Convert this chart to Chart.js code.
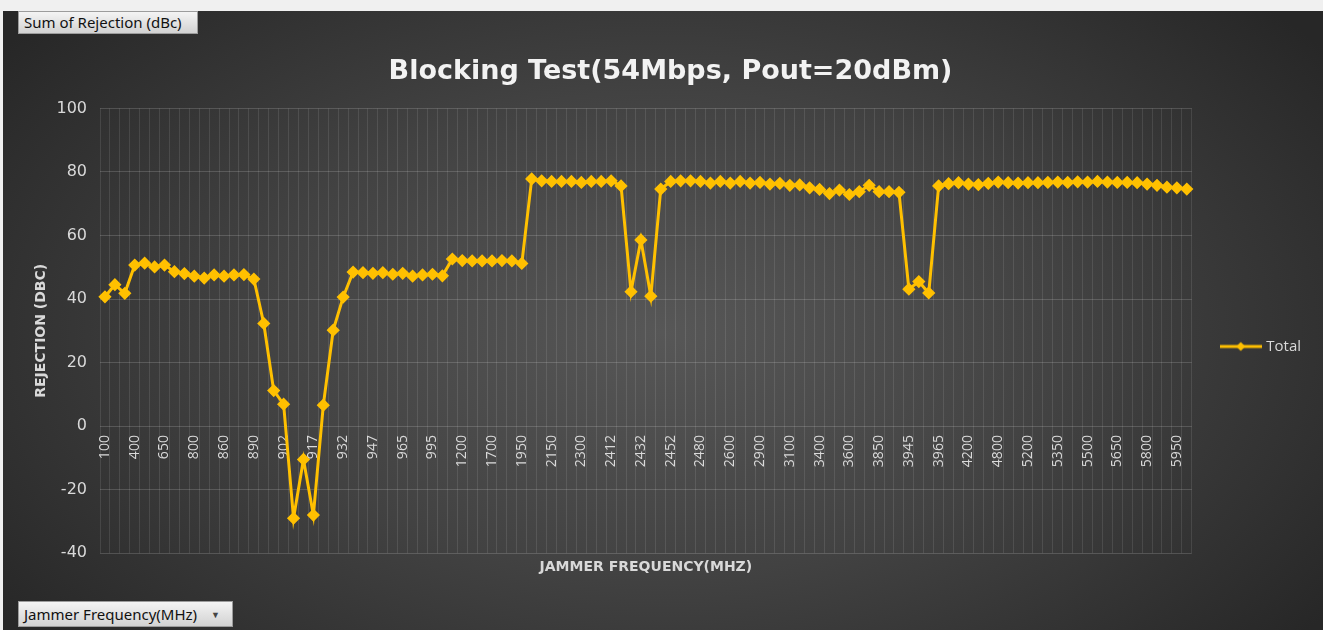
<!DOCTYPE html>
<html>
<head>
<meta charset="utf-8">
<title>Blocking Test</title>
<script src="https://cdn.jsdelivr.net/npm/chart.js@4.4.1/dist/chart.umd.min.js"></script>
<style>
  html, body { margin: 0; padding: 0; width: 1323px; height: 630px; overflow: hidden; background: #f0f0f0; }
  #wrap {
    position: absolute; left: 3px; top: 11px; width: 1320px; height: 619px;
    background: radial-gradient(ellipse 62% 78% at 50% 52%, #575757 0%, #424242 50%, #272727 100%);
  }
  #wrap canvas { position: absolute; left: 0; top: 0; }
  .field {
    position: absolute; box-sizing: border-box;
    font-family: 'Noto Sans', sans-serif; font-size: 15px; color: #111;
    background: linear-gradient(#f4f4f4, #d2d2d2); border: 1px solid #9c9c9c;
    white-space: nowrap; line-height: 1;
  }
  #valueField { left: 18px; top: 11px; width: 180px; height: 23px; padding: 3px 0 0 5px; }
  #rowField { left: 18px; top: 601px; width: 215px; height: 26px; padding: 5px 0 0 5px; }
  #rowField span { position: absolute; right: 12px; top: 8px; font-size: 9px; color: #444; }
</style>
</head>
<body>
<div id="wrap"><canvas id="chart" width="1320" height="619"></canvas></div>
<div class="field" id="valueField">Sum of Rejection (dBc)</div>
<div class="field" id="rowField">Jammer Frequency(MHz)<span>&#9660;</span></div>

<script>
// jammer frequencies (MHz) - only every third one is labelled on the axis
const frequencies = [
  '100', '200', '300', '400', '500', '600', '650', '700', '750',
  '800', '820', '840', '860', '870', '880', '890', '894', '898',
  '902', '907', '912', '917', '922', '927', '932', '937', '942',
  '947', '953', '959', '965', '975', '985', '995', '1000', '1100',
  '1200', '1400', '1500', '1700', '1800', '1900', '1950', '2000', '2100',
  '2150', '2200', '2250', '2300', '2350', '2400', '2412', '2417', '2422',
  '2432', '2437', '2442', '2452', '2462', '2472', '2480', '2500', '2550',
  '2600', '2700', '2800', '2900', '2950', '3000', '3100', '3200', '3300',
  '3400', '3450', '3500', '3600', '3700', '3800', '3850', '3900', '3940',
  '3945', '3950', '3960', '3965', '4000', '4100', '4200', '4400', '4600',
  '4800', '4900', '5000', '5200', '5250', '5300', '5350', '5400', '5450',
  '5500', '5550', '5600', '5650', '5700', '5750', '5800', '5850', '5900',
  '5950', '6000'
];

// rejection in dBc
const totalRejection = [
  40.7, 44.5, 41.8, 50.7, 51.3, 50.1, 50.7, 48.6, 48.0,
  47.2, 46.6, 47.6, 47.2, 47.6, 47.7, 46.3, 32.3, 11.2,
  6.9, -29.0, -10.5, -28.0, 6.6, 30.2, 40.6, 48.5, 48.3,
  48.1, 48.3, 47.8, 48.1, 47.2, 47.6, 47.8, 47.3, 52.6,
  52.1, 52.0, 52.0, 52.0, 52.1, 52.0, 51.2, 77.8, 77.2,
  77.0, 77.0, 77.0, 76.7, 77.0, 77.0, 77.2, 75.6, 42.3,
  58.6, 40.9, 74.6, 77.0, 77.2, 77.2, 77.0, 76.5, 77.0,
  76.5, 77.0, 76.5, 76.7, 76.2, 76.4, 75.8, 75.9, 75.0,
  74.5, 73.2, 74.3, 72.9, 73.8, 75.8, 73.8, 73.8, 73.6,
  43.1, 45.5, 41.9, 75.6, 76.3, 76.6, 76.2, 76.0, 76.4,
  76.8, 76.6, 76.5, 76.6, 76.6, 76.7, 76.8, 76.7, 76.9,
  76.8, 77.0, 76.8, 76.7, 76.7, 76.6, 76.2, 75.8, 75.2,
  75.0, 74.6
];

const yMin = -40;
const yMax = 100;
const yStep = 20;
const labelEvery = 3;

const gold = '#ffc000';
const textGrey = '#d9d9d9';

// legend symbol: short line with a diamond in the middle
const legendMark = document.createElement('canvas');
legendMark.width = 42;
legendMark.height = 12;
(function () {
  const c = legendMark.getContext('2d');
  c.strokeStyle = gold;
  c.lineWidth = 3;
  c.beginPath(); c.moveTo(0, 6); c.lineTo(42, 6); c.stroke();
  c.fillStyle = gold;
  c.beginPath(); c.moveTo(21, 1.5); c.lineTo(25.5, 6); c.lineTo(21, 10.5); c.lineTo(16.5, 6); c.closePath(); c.fill();
})();

Chart.defaults.font.family = "'Open Sans', sans-serif";
Chart.defaults.color = textGrey;

new Chart(document.getElementById('chart'), {
  type: 'line',
  data: {
    labels: frequencies,
    datasets: [{
      label: 'Total',
      data: totalRejection,
      borderColor: gold,
      backgroundColor: gold,
      borderWidth: 3,
      pointStyle: 'rectRot',
      pointRadius: 4.5,
      pointHoverRadius: 5,
      tension: 0
    }]
  },
  options: {
    responsive: false,
    animation: false,
    layout: { padding: { left: 27, right: 12, top: 0, bottom: 54 } },
    plugins: {
      title: {
        display: true,
        text: 'Blocking Test(54Mbps, Pout=20dBm)',
        color: '#f2f2f2',
        font: { family: "'DejaVu Sans', sans-serif", size: 27, weight: 'bold' },
        padding: { top: 45, bottom: 20 }
      },
      legend: {
        position: 'right',
        // empty title only pushes the entry down to the middle of the plot
        title: { display: true, text: ' ', font: { size: 15 }, padding: { top: 0, bottom: 88 } },
        labels: {
          usePointStyle: true,
          pointStyle: legendMark,
          pointStyleWidth: 36,
          color: textGrey,
          font: { size: 15 },
          padding: 31,
          generateLabels: chart => [{
            text: 'Total', pointStyle: legendMark, fillStyle: gold, strokeStyle: gold,
            lineWidth: 0, datasetIndex: 0, hidden: false, fontColor: textGrey
          }]
        }
      },
      tooltip: { enabled: false }
    },
    scales: {
      x: {
        type: 'category',
        position: { y: 0 },
        offset: true,
        grid: { offset: true, color: 'rgba(255,255,255,0.10)', drawTicks: false },
        border: { display: false },
        ticks: {
          autoSkip: false,
          minRotation: 90,
          maxRotation: 90,
          padding: 9,
          color: textGrey,
          font: { size: 14 },
          callback: function (value, index) {
            return index % labelEvery === 0 ? this.getLabelForValue(value) : '';
          }
        }
      },
      x2: {
        type: 'category',
        axis: 'x',
        position: 'bottom',
        labels: frequencies,
        grid: { display: false, drawTicks: false },
        border: { display: false },
        ticks: { display: false },
        title: {
          display: true,
          text: 'JAMMER FREQUENCY(MHZ)',
          color: textGrey,
          font: { family: "'DejaVu Sans', sans-serif", size: 14, weight: 'bold' },
          padding: { top: 6, bottom: 0 }
        }
      },
      y: {
        min: yMin,
        max: yMax,
        grid: { color: 'rgba(255,255,255,0.16)', drawTicks: false },
        border: { display: false },
        ticks: { stepSize: yStep, padding: 13, color: textGrey, font: { family: "'DejaVu Sans', sans-serif", size: 16 } },
        title: {
          display: true,
          text: 'REJECTION (DBC)',
          color: textGrey,
          font: { family: "'DejaVu Sans', sans-serif", size: 14, weight: 'bold' },
          padding: { top: 3, bottom: 0 }
        },
        afterFit: scale => { scale.width = 70; }
      }
    }
  }
});
</script>
</body>
</html>
